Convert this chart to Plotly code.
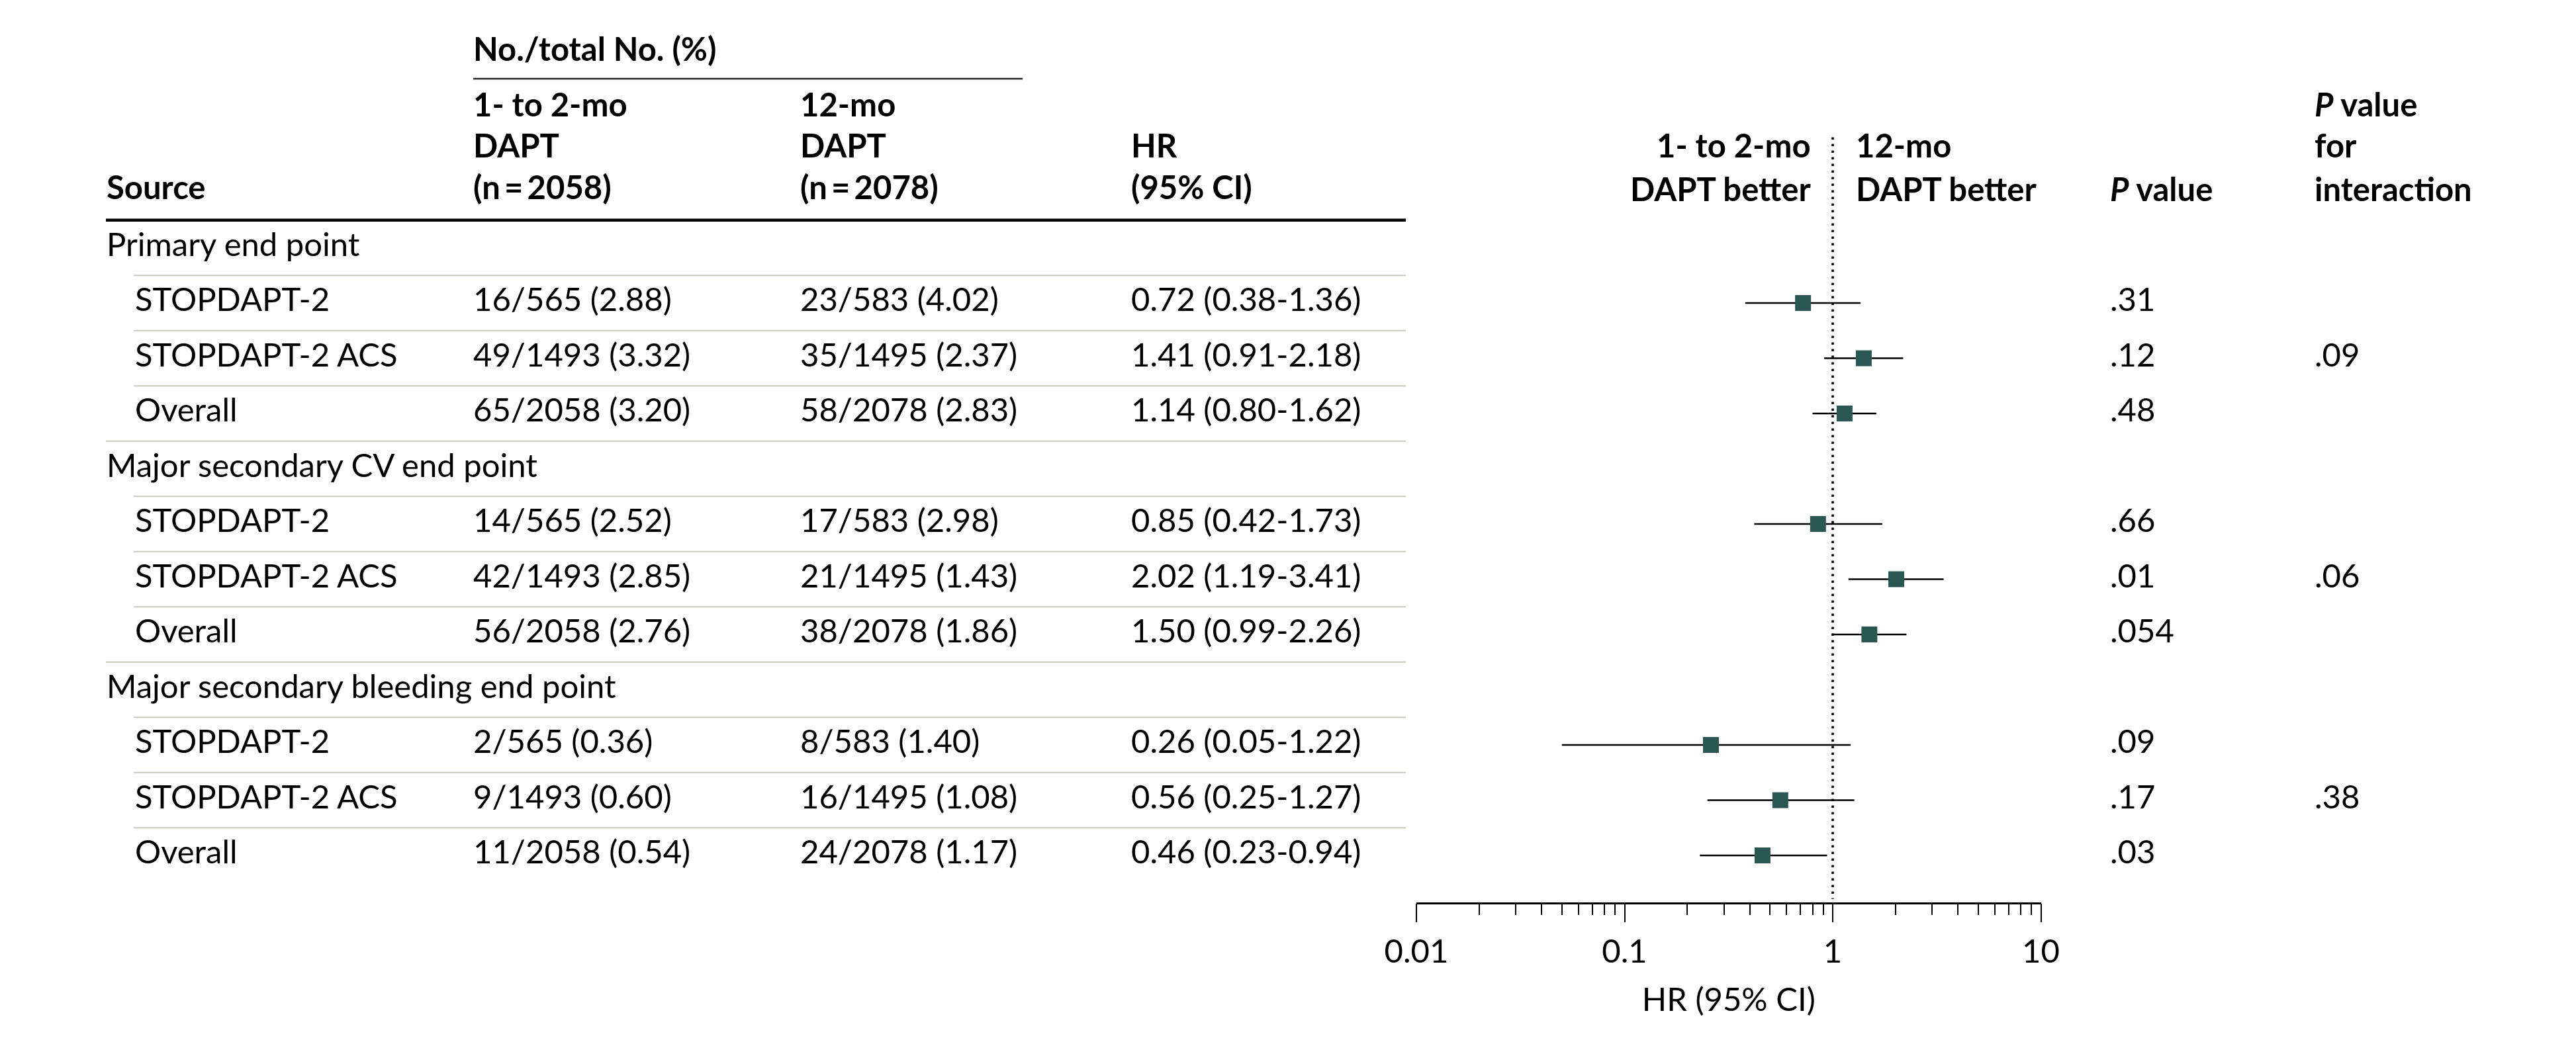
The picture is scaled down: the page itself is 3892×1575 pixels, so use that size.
import plotly.graph_objects as go

# ---------------- data ----------------
groups = ["Primary end point", "Major secondary CV end point", "Major secondary bleeding end point"]
subgroups = ["STOPDAPT-2", "STOPDAPT-2 ACS", "Overall"]
short_dapt = ["16/565 (2.88)", "49/1493 (3.32)", "65/2058 (3.20)",
              "14/565 (2.52)", "42/1493 (2.85)", "56/2058 (2.76)",
              "2/565 (0.36)", "9/1493 (0.60)", "11/2058 (0.54)"]
long_dapt = ["23/583 (4.02)", "35/1495 (2.37)", "58/2078 (2.83)",
             "17/583 (2.98)", "21/1495 (1.43)", "38/2078 (1.86)",
             "8/583 (1.40)", "16/1495 (1.08)", "24/2078 (1.17)"]
hr = [0.72, 1.41, 1.14, 0.85, 2.02, 1.50, 0.26, 0.56, 0.46]
hr_lo = [0.38, 0.91, 0.80, 0.42, 1.19, 0.99, 0.05, 0.25, 0.23]
hr_hi = [1.36, 2.18, 1.62, 1.73, 3.41, 2.26, 1.22, 1.27, 0.94]
p_value = [".31", ".12", ".48", ".66", ".01", ".054", ".09", ".17", ".03"]
p_interaction = [".09", ".06", ".38"]
tick_vals = [0.01, 0.1, 1, 10]
tick_text = ["0.01", "0.1", "1", "10"]

# ---------------- layout constants ----------------
W, H = 3892, 1575
FONT = "Lato, Open Sans, Liberation Sans, sans-serif"
FS = 49
ROW0_PX, ROW_H = 366.5, 83.5
Y_TOP = -ROW0_PX / ROW_H
Y_BOT = (H - ROW0_PX) / ROW_H
AXIS_ROW = 12.0 - 12 / ROW_H
XO = -8  # page offset compensation
X_LABEL, X_SUB, X_C1, X_C2, X_HR, X_P, X_PI = [v + XO for v in (161, 204, 715, 1209, 1709, 3188, 3497)]
TABLE_L, TABLE_SUB_L, TABLE_R = [v + XO for v in (160, 202, 2124)]
UL_R = 1545 + XO
HDR_R, HDR_L = 2736 + XO, 2804 + XO
LOG_X0, LOG_X1 = 2140 + XO, 3083.5 + XO
MARK_COLOR = "#2a5654"
RULE_LIGHT = "#c5cabc"
HEAD_SHIFT = 9

# row positions
grp_rows = [4 * g for g in range(len(groups))]
sub_rows = [4 * g + 1 + k for g in range(len(groups)) for k in range(len(subgroups))]
sub_labels = [s for g in groups for s in subgroups]
hr_text = [f"{h:.2f} ({l:.2f}-{u:.2f})" for h, l, u in zip(hr, hr_lo, hr_hi)]
pi_rows = [4 * g + 2 for g in range(len(groups))]

fig = go.Figure()

def text_trace(xpos, ys, texts):
    fig.add_trace(go.Scatter(
        x=[xpos] * len(ys), y=ys, text=texts, mode="text",
        textposition="middle right",
        textfont=dict(family=FONT, size=FS, color="black"),
        xaxis="x2", yaxis="y", hoverinfo="skip", showlegend=False))

text_trace(X_LABEL, grp_rows, groups)
text_trace(X_SUB, sub_rows, sub_labels)
text_trace(X_C1, sub_rows, short_dapt)
text_trace(X_C2, sub_rows, long_dapt)
text_trace(X_HR, sub_rows, hr_text)
text_trace(X_P, sub_rows, p_value)
text_trace(X_PI, pi_rows, p_interaction)

# reference line at HR = 1
fig.add_trace(go.Scatter(
    x=[1, 1], y=[-2.0, AXIS_ROW - 0.07], mode="lines",
    line=dict(color="black", width=3.5, dash="3.5px,6.5px"),
    xaxis="x", yaxis="y", hoverinfo="skip", showlegend=False))

# forest markers
fig.add_trace(go.Scatter(
    x=hr, y=sub_rows, mode="markers",
    marker=dict(symbol="square", size=24, color=MARK_COLOR, line=dict(width=0)),
    error_x=dict(type="data", symmetric=False,
                 array=[u - h for h, u in zip(hr, hr_hi)],
                 arrayminus=[h - l for h, l in zip(hr, hr_lo)],
                 color="black", thickness=2.4, width=0),
    xaxis="x", yaxis="y", hoverinfo="skip", showlegend=False))

# ---------------- rules ----------------
shapes = []
def hline(x0, x1, y, color, width):
    shapes.append(dict(type="line", xref="x2", yref="y", x0=x0, x1=x1, y0=y, y1=y,
                       line=dict(color=color, width=width)))

hline(X_C1, UL_R, -3.06, "#222222", 2.5)
hline(TABLE_L, TABLE_R, -0.5, "black", 4.5)
for g in range(len(groups)):
    base = 4 * g
    for k in range(3):
        hline(TABLE_SUB_L, TABLE_R, base + 0.5 + k, RULE_LIGHT, 2.2)
    if g < len(groups) - 1:
        hline(TABLE_L, TABLE_R, base + 3.5, RULE_LIGHT, 2.2)

# ---------------- headers ----------------
annotations = []
def head(x, y, text, anchor="left"):
    annotations.append(dict(
        x=x, y=y, xref="x2", yref="y", text=text,
        showarrow=False, xanchor=anchor, yanchor="middle", yshift=HEAD_SHIFT,
        borderpad=0, borderwidth=0,
        font=dict(family=FONT, size=FS, color="black", weight=700)))

head(X_C1, -3.5, "No./total No. (%)")
head(X_C1, -2.5, "1- to 2-mo")
head(X_C1, -1.75, "DAPT")
head(X_C1, -1.0, "(n\u2009=\u20092058)")
head(X_C2, -2.5, "12-mo")
head(X_C2, -1.75, "DAPT")
head(X_C2, -1.0, "(n\u2009=\u20092078)")
head(X_HR, -1.75, "HR")
head(X_HR, -1.0, "(95% CI)")
head(X_LABEL, -1.0, "Source")
head(HDR_R, -1.75, "1- to 2-mo", anchor="right")
head(HDR_R, -0.97, "DAPT better", anchor="right")
head(HDR_L, -1.75, "12-mo")
head(HDR_L, -0.97, "DAPT better")
head(X_P, -0.97, "<i>P</i> value")
head(X_PI, -2.5, "<i>P</i> value")
head(X_PI, -1.75, "for")
head(X_PI, -0.97, "interaction")

minor_vals = [m * 10 ** e for e in (-2, -1, 0) for m in range(2, 10)]

fig.update_layout(
    width=W, height=H, autosize=False,
    margin=dict(l=0, r=0, t=0, b=0, pad=0, autoexpand=False),
    showlegend=False,
    paper_bgcolor="white", plot_bgcolor="rgba(0,0,0,0)",
    font=dict(family=FONT, size=FS, color="black"),
    shapes=shapes, annotations=annotations,
    xaxis=dict(
        type="log", range=[-2, 1], domain=[LOG_X0 / W, LOG_X1 / W],
        anchor="free", position=(Y_BOT - AXIS_ROW) / (Y_BOT - Y_TOP),
        automargin=False,
        showline=True, linecolor="black", linewidth=2.5,
        showgrid=False, zeroline=False,
        ticks="outside", ticklen=28, tickwidth=2, tickcolor="black",
        tickmode="array", tickvals=tick_vals, ticktext=tick_text,
        tickfont=dict(family=FONT, size=FS, color="black"),
        ticklabelstandoff=2,
        minor=dict(tickmode="array", tickvals=minor_vals, ticks="outside",
                   ticklen=17, tickwidth=2, tickcolor="black", showgrid=False),
        title=dict(text="HR (95% CI)", standoff=29,
                   font=dict(family=FONT, size=FS, color="black")),
    ),
    xaxis2=dict(range=[0, W], domain=[0, 1], anchor="y", visible=False,
                automargin=False, fixedrange=True),
    yaxis=dict(range=[Y_BOT, Y_TOP], domain=[0, 1], visible=False,
               automargin=False, showgrid=False, zeroline=False),
)

fig.write_html("out.html")
